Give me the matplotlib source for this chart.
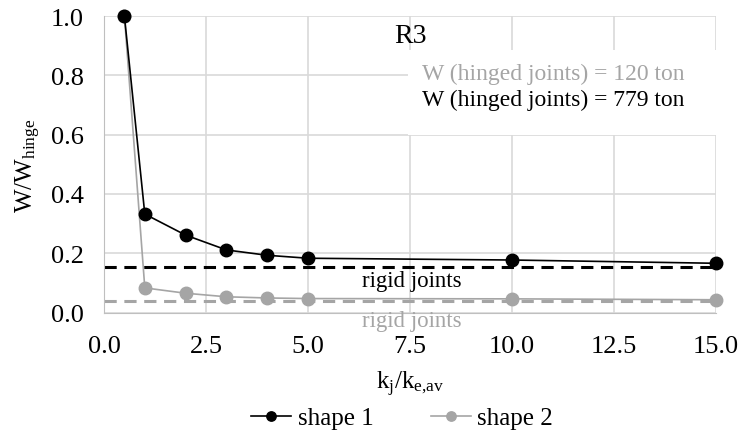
import matplotlib.pyplot as plt

# data
x = [0.5, 1, 2, 3, 4, 5, 10, 15]
shape1 = [1.0, 0.332, 0.261, 0.211, 0.193, 0.183, 0.177, 0.166]
shape2 = [1.0, 0.083, 0.065, 0.053, 0.049, 0.047, 0.046, 0.043]
rigid1 = 0.155
rigid2 = 0.040

plt.rcParams['font.family'] = ['Liberation Serif', 'DejaVu Serif']
plt.rcParams['mathtext.fontset'] = 'custom'
plt.rcParams['mathtext.rm'] = 'Liberation Serif'
plt.rcParams['mathtext.it'] = 'Liberation Serif'

black = '#000000'
grey = '#a5a5a5'

fig = plt.figure(figsize=(7.38, 4.35), dpi=100)
ax = fig.add_axes([104 / 738, 1 - 313.5 / 435, 612 / 738, 296.5 / 435])

ax.plot(x, shape1, color=black, marker='o', ms=9, lw=1.2, label='shape 1', zorder=4, clip_on=False)
ax.plot(x, shape2, color=grey, marker='o', ms=9, lw=1.2, label='shape 2', zorder=3, clip_on=False)
ax.axhline(rigid1, color=black, lw=2.2, ls=(0, (4, 2.5)), zorder=2)
ax.axhline(rigid2, color=grey, lw=2.2, ls=(0, (4, 2.5)), zorder=2)

ax.text(7.55, rigid1 - 0.01, 'rigid joints', color=black, fontsize=16.5, ha='center', va='top')
ax.text(7.55, rigid2 - 0.033, 'rigid joints', color=grey, fontsize=16.5, ha='center', va='top', clip_on=False)

ax.text(7.5, 0.975, 'R3', fontsize=20, ha='center', va='top')

ax.set_xlim(0, 15)
ax.set_ylim(0, 1.0)
ax.set_xticks([0, 2.5, 5, 7.5, 10, 12.5, 15])
ax.set_xticklabels(['0.0', '2.5', '5.0', '7.5', '10.0', '12.5', '15.0'])
ax.set_yticks([0, 0.2, 0.4, 0.6, 0.8, 1.0])
ax.set_yticklabels(['0.0', '0.2', '0.4', '0.6', '0.8', '1.0'])
ax.tick_params(labelsize=19, length=0)
ax.tick_params(axis='x', pad=16)
ax.tick_params(axis='y', pad=14.5)
ax.grid(True, color='#d9d9d9', lw=1.2, zorder=0)
ax.set_axisbelow(True)
for s in ['top', 'right']:
    ax.spines[s].set_visible(False)
for s in ['left', 'bottom']:
    ax.spines[s].set_color('#bfbfbf')

# white box with the hinge weights
box = plt.Rectangle((7.45, 0.6), 7.55, 0.285, facecolor='white', edgecolor='none', zorder=1.5)
ax.add_patch(box)
ax.text(7.8, 0.808, 'W (hinged joints) = 120 ton', color=grey, fontsize=17, va='center')
ax.text(7.8, 0.718, 'W (hinged joints) = 779 ton', color=black, fontsize=17, va='center')

ax.set_ylabel(r'W/W$_{\mathrm{hinge}}$', fontsize=18, labelpad=6)
ax.set_xlabel(r'k$_{\mathrm{j}}$/k$_{\mathrm{e{,}av}}$', fontsize=18, labelpad=9)

fig.legend(loc='center', bbox_to_anchor=(402 / 738, 1 - 419 / 435), ncol=2, frameon=False,
           fontsize=18, handlelength=1.6, columnspacing=2.3, handletextpad=0.25, markerscale=0.75,
           borderpad=0, borderaxespad=0)

fig.savefig('out.png', dpi=100)
